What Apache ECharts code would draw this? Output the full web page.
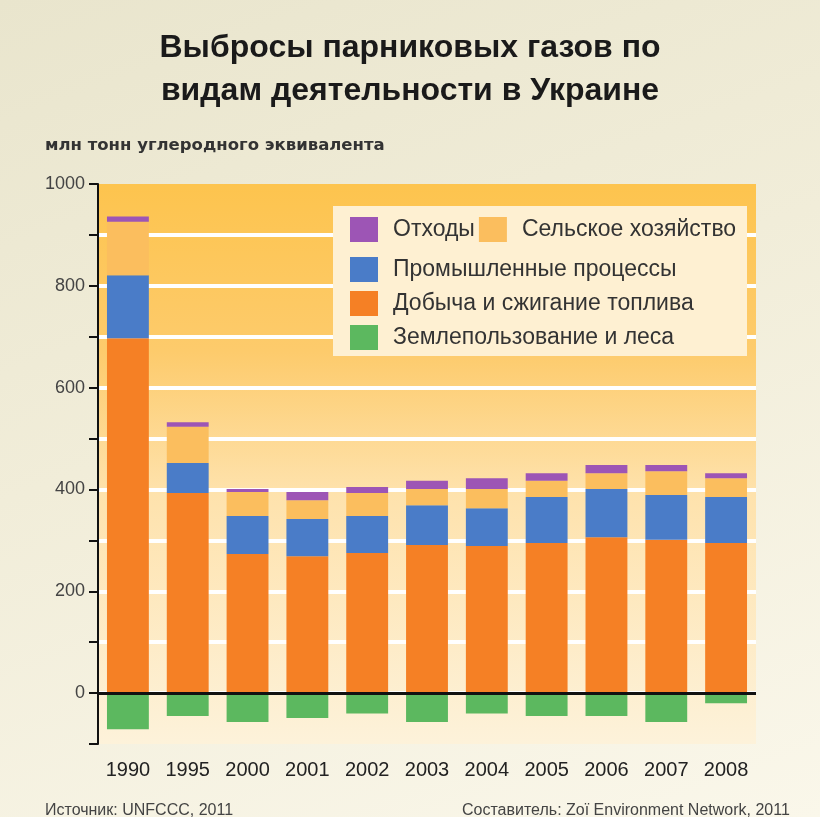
<!DOCTYPE html>
<html>
<head>
<meta charset="utf-8">
<script src="https://cdn.jsdelivr.net/npm/echarts@6/dist/echarts.min.js"></script>
<style>
html,body{margin:0;padding:0;width:820px;height:817px;overflow:hidden;
background:linear-gradient(160deg,#E9E5CD 0%,#F1EDD9 45%,#FAF7EA 100%);}
#c{width:820px;height:817px;}
</style>
</head>
<body>
<div id="c"></div>
<script>
const years = ['1990','1995','2000','2001','2002','2003','2004','2005','2006','2007','2008'];
const fuel = [697, 393, 273, 269, 275, 291, 289, 295, 306, 301, 295];
const industry = [124, 59, 75, 73, 73, 78, 74, 90, 95, 88, 90];
const agriculture = [105, 71, 47, 37, 45, 32, 38, 32, 31, 47, 37];
const waste = [10, 9, 6, 16, 12, 16, 21, 15, 16, 12, 10];
const landUse = [-71, -45, -57, -49, -40, -57, -40, -45, -45, -57, -20];
const yTickLabels = [0, 200, 400, 600, 800, 1000];

const titleText = 'Выбросы парниковых газов по\nвидам деятельности в Украине';
const unitText = 'млн тонн углеродного эквивалента';
const sourceText = 'Источник: UNFCCC, 2011';
const authorText = 'Составитель: Zoï Environment Network, 2011';

const names = {
  waste: 'Отходы',
  agri: 'Сельское хозяйство',
  ind: 'Промышленные процессы',
  fuel: 'Добыча и сжигание топлива',
  land: 'Землепользование и леса'
};
const colors = {
  waste: '#9D55B5', agri: '#FBBE5E', ind: '#4A7CC8', fuel: '#F58025', land: '#5CB85F'
};

const chart = echarts.init(document.getElementById('c'), null, {renderer: 'canvas'});
const FF = '"Liberation Sans", Arial, sans-serif';

const option = {
  backgroundColor: 'transparent',
  animation: false,
  title: {
    text: titleText,
    left: 'center',
    top: 22,
    textStyle: {fontFamily: FF, fontSize: 32, fontWeight: 'bold', color: '#1A1A1A', lineHeight: 43}
  },
  grid: {
    left: 98, right: 64, top: 184, bottom: 73,
    show: true, borderWidth: 0,
    backgroundColor: new echarts.graphic.LinearGradient(0, 0, 0, 1, [
      {offset: 0, color: '#FDC44E'},
      {offset: 0.3, color: '#FDCB6C'},
      {offset: 0.55, color: '#FEE2AC'},
      {offset: 1, color: '#FDF2DA'}
    ])
  },
  legend: [
    {
      data: [names.waste, names.agri],
      orient: 'horizontal', left: 345, top: 212,
      itemWidth: 28, itemHeight: 25, itemGap: 4,
      icon: 'rect',
      textStyle: {fontFamily: FF, fontSize: 23, color: '#333', padding: [0, 0, 0, 10]}
    },
    {
      data: [names.ind, names.fuel, names.land],
      orient: 'vertical', left: 345, top: 252,
      itemWidth: 28, itemHeight: 25, itemGap: 9,
      icon: 'rect',
      textStyle: {fontFamily: FF, fontSize: 23, color: '#333', padding: [0, 0, 0, 10]}
    }
  ],
  xAxis: {
    type: 'category',
    data: years,
    axisLine: {show: false},
    axisTick: {show: false},
    axisLabel: {fontFamily: FF, fontSize: 20, color: '#222', margin: 16}
  },
  yAxis: {
    type: 'value',
    min: -100, max: 1000, interval: 100,
    axisLine: {show: true, lineStyle: {color: '#111', width: 2}},
    axisTick: {show: true, length: 9, lineStyle: {color: '#111', width: 2}},
    axisLabel: {
      fontFamily: FF, fontSize: 18, color: '#444', margin: 13,
      formatter: function (v) { return yTickLabels.indexOf(v) >= 0 ? String(v) : ''; }
    },
    splitLine: {show: true, showMinLine: false, showMaxLine: false, lineStyle: {color: '#FFFFFF', width: 4}}
  },
  graphic: [
    {type: 'rect', z: 1, shape: {x: 333, y: 206, width: 414, height: 150}, style: {fill: '#FEF0D2'}},
    {type: 'text', left: 45, top: 137, style: {text: unitText, font: 'bold 16.5px "DejaVu Sans", sans-serif', fill: '#333'}},
    {type: 'text', left: 45, top: 803, style: {text: sourceText, font: '16px ' + FF, fill: '#444'}},
    {type: 'text', left: 462, top: 803, style: {text: authorText, font: '16px ' + FF, fill: '#444'}}
  ],
  series: [
    {name: names.fuel, type: 'bar', stack: 't', data: fuel, barWidth: '70%', itemStyle: {color: colors.fuel}},
    {name: names.ind, type: 'bar', stack: 't', data: industry, itemStyle: {color: colors.ind}},
    {name: names.agri, type: 'bar', stack: 't', data: agriculture, itemStyle: {color: colors.agri}},
    {name: names.waste, type: 'bar', stack: 't', data: waste, itemStyle: {color: colors.waste}},
    {
      name: names.land, type: 'bar', stack: 't', data: landUse, itemStyle: {color: colors.land},
      markLine: {
        silent: true, symbol: 'none', label: {show: false},
        lineStyle: {color: '#111', width: 3, type: 'solid'},
        data: [{yAxis: 0}]
      }
    }
  ]
};
chart.setOption(option);
</script>
</body>
</html>
